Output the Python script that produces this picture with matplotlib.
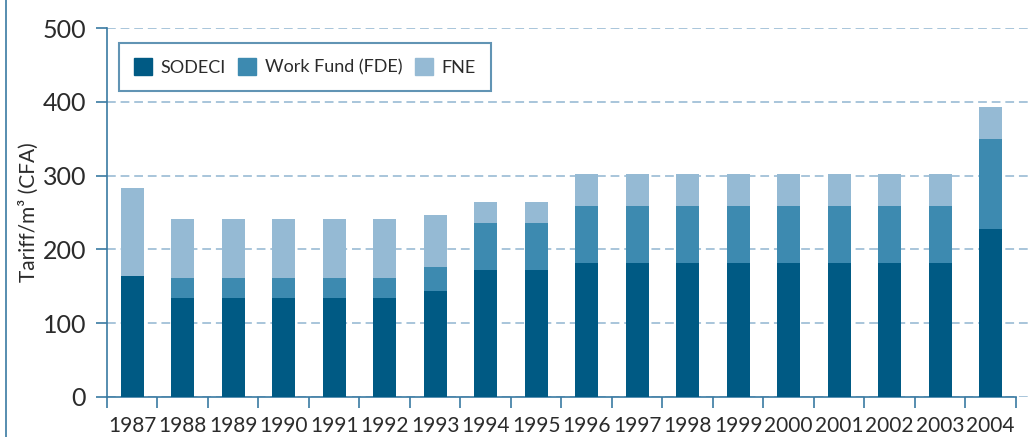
import numpy as np
import matplotlib
matplotlib.use("Agg")
import matplotlib.pyplot as plt
from matplotlib.patches import Patch
from matplotlib.lines import Line2D

years = ["1987", "1988", "1989", "1990", "1991", "1992", "1993", "1994", "1995",
         "1996", "1997", "1998", "1999", "2000", "2001", "2002", "2003", "2004"]
sodeci = [163.5, 133.7, 133.7, 133.7, 133.7, 133.7, 143.2, 171.6, 171.6,
          181.1, 181.1, 181.1, 181.1, 181.1, 181.1, 181.1, 181.1, 227.2]
fde = [0, 27.1, 27.1, 27.1, 27.1, 27.1, 32.5, 63.7, 63.7,
       77.3, 77.3, 77.3, 77.3, 77.3, 77.3, 77.3, 77.3, 121.9]
fne = [119.2, 80.0, 80.0, 80.0, 80.0, 80.0, 70.5, 28.5, 28.5,
       43.3, 43.3, 43.3, 43.3, 43.3, 43.3, 43.3, 43.3, 43.4]

c_sod = "#005a84"
c_fde = "#3d8ab0"
c_fne = "#95bad4"
c_axis = "#3a7aa2"
c_txt = "#2b2b2b"

plt.rcParams["font.family"] = ["Lato", "DejaVu Sans"]

fig = plt.figure(figsize=(10.31, 4.37), dpi=100)
ax = fig.add_axes([107/1031, 1 - 397/437, (1031 - 107)/1031, (397 - 28)/437])

x = np.arange(len(years))
w = 0.46
sod = np.array(sodeci)
fd = np.array(fde)
fn = np.array(fne)
ax.bar(x, sod, w, color=c_sod, zorder=3)
ax.bar(x, fd, w, bottom=sod, color=c_fde, zorder=3)
ax.bar(x, fn, w, bottom=sod + fd, color=c_fne, zorder=3)

ax.set_ylim(0, 500)
ax.set_xlim(-0.5, 17.8)
ax.set_yticks([0, 100, 200, 300, 400, 500])
ax.yaxis.grid(True, color="#a8c5da", linestyle=(0, (4.5, 2.5)), linewidth=1.4, zorder=0)

ax.set_xticks(np.arange(-0.5, 18, 1))
ax.set_xticklabels([])
ax.set_xticks(x, minor=True)
ax.set_xticklabels(years, minor=True)
ax.tick_params(axis="x", which="major", length=8, width=1.2, color=c_axis, direction="out")
ax.tick_params(axis="x", which="minor", length=0, pad=14, labelsize=15, labelcolor=c_txt)
ax.tick_params(axis="y", length=8, width=1.2, color=c_axis, pad=7, labelsize=18, labelcolor=c_txt)

for s in ["top", "right"]:
    ax.spines[s].set_visible(False)
ax.spines["left"].set_color(c_axis)
ax.spines["bottom"].set_color(c_axis)
ax.spines["left"].set_linewidth(1.2)
ax.spines["bottom"].set_linewidth(1.2)
ax.spines["bottom"].set_bounds(-0.5, 17.5)

ax.set_ylabel("Tariff/m³ (CFA)", fontsize=15, color=c_txt, labelpad=3)

handles = [Patch(color=c_sod, label="SODECI"),
           Patch(color=c_fde, label="Work Fund (FDE)"),
           Patch(color=c_fne, label="FNE")]
leg = ax.legend(handles=handles, ncol=3, loc="upper left", bbox_to_anchor=(0.013, 0.959),
                borderaxespad=0, frameon=True, fancybox=False, fontsize=13, handlelength=1.0,
                handleheight=1.0, columnspacing=0.7, handletextpad=0.45, borderpad=0.85,
                labelcolor=c_txt)
leg.get_frame().set_edgecolor(c_axis)
leg.get_frame().set_linewidth(1.5)

fig.add_artist(Line2D([6/1031, 6/1031], [0, 1], color=c_axis, linewidth=1.2))

fig.savefig("out.png", dpi=100)
